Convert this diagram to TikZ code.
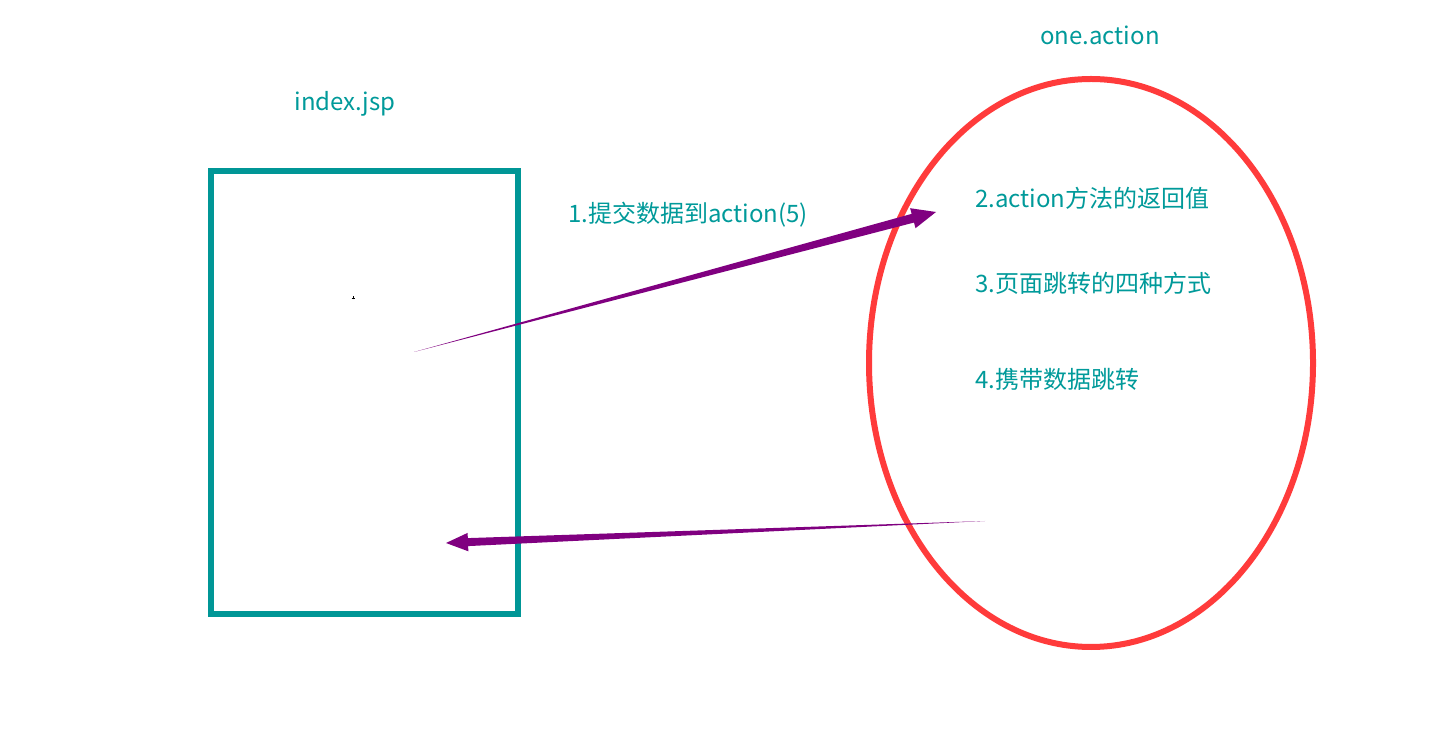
\documentclass[tikz,border=0pt]{standalone}
\usepackage{fontspec}
\setmainfont{Noto Sans CJK SC}
\usetikzlibrary{shapes.geometric,calc}
\definecolor{tealtext}{HTML}{009A9A}
\definecolor{tealbox}{HTML}{009696}
\definecolor{ovalred}{HTML}{FF3B3B}
\definecolor{flowpurple}{HTML}{800080}
\tikzset{
  label text/.style={text=tealtext,font=\fontsize{24}{28}\selectfont,inner sep=0pt},
  page box/.style={draw=tealbox,line width=6pt,minimum width=307pt,minimum height=443pt,inner sep=0pt},
  action oval/.style={ellipse,draw=ovalred,line width=6pt,minimum width=444pt,minimum height=568pt,inner sep=0pt},
  tapered/.style={fill=flowpurple,draw=none}
}
% tapered arrow from #1 (pointed tail) to #2 (tip)
\newcommand{\taperarrow}[4]{%
  \fill[tapered] (#1)
    -- ($($(#2)!#3!(#1)$)!#4/2!90:(#2)$)
    -- ($($(#2)!#3!(#1)$)!#4*1.15!90:(#2)$)
    -- (#2)
    -- ($($(#2)!#3!(#1)$)!#4*1.15!-90:(#2)$)
    -- ($($(#2)!#3!(#1)$)!#4/2!-90:(#2)$)
    -- cycle;}
\begin{document}
\begin{tikzpicture}[x=1pt,y=1pt]
\useasboundingbox (0,0) rectangle (1434,736);
\fill[white] (0,0) rectangle (1434,736);

% the JSP page and the action
\node[page box] (jsp) at (364.5,343.5) {};
\node[action oval] (action) at (1091,373) {};

% titles
\node[label text] (jsptitle) at (345,632) {index.jsp};
\node[label text] (actiontitle) at (1100,701) {one.action};

% steps inside the action
\node[label text,anchor=west] (s2) at (975,538) {2.action方法的返回值};
\node[label text,anchor=west] (s3) at (975,453) {3.页面跳转的四种方式};
\node[label text,anchor=west] (s4) at (975,357) {4.携带数据跳转};

% request label
\node[label text,anchor=west] (s1) at (568,521) {1.提交数据到action(5)};

% arrow end points
\coordinate (reqtail) at (414,384);
\coordinate (reqtip) at (936,524);
\coordinate (resptail) at (985,215);
\coordinate (resptip) at (446,193);

\taperarrow{reqtail}{reqtip}{24pt}{9pt}
\taperarrow{resptail}{resptip}{22pt}{8pt}

% small mark inside the page
\coordinate (mark) at (353,438);
\draw[black,line width=0.8pt] ($(mark)+(-1.5,0)$) -- ($(mark)+(1.5,0)$)
  ($(mark)+(0,-1.5)$) -- ($(mark)+(0,1.5)$);
\end{tikzpicture}
\end{document}
